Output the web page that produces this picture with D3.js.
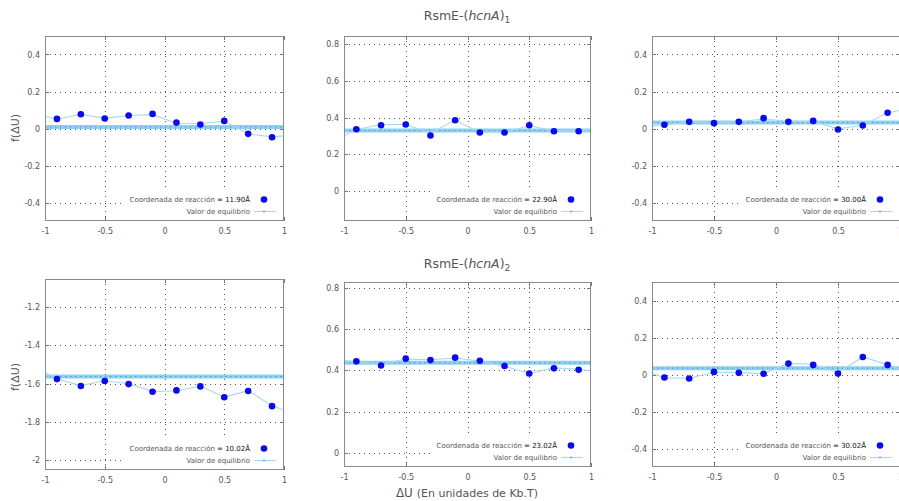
<!DOCTYPE html>
<html><head><meta charset="utf-8">
<script src="https://cdn.jsdelivr.net/npm/d3@7"></script>
<style>body{margin:0;background:#fff}svg{display:block;font-family:"DejaVu Sans",sans-serif}</style>
</head><body><svg id="c" width="899" height="501"></svg>
<script>
// ---------- data ----------
const pointX = [-0.9,-0.7,-0.5,-0.3,-0.1,0.1,0.3,0.5,0.7,0.9];
const lineX  = [-1,-0.9,-0.7,-0.5,-0.3,-0.1,0.1,0.3,0.5,0.7,0.9,1];
const xTicks = [-1,-0.5,0,0.5,1];
const xTickLabels = ["-1","-0.5","0","0.5","1"];

const coords = ["11.90Å","22.90Å","30.00Å","10.02Å","23.02Å","30.02Å"];
const equilibrium = [0.008, 0.329, 0.032, -1.563, 0.437, 0.034];

const pts1 = [0.052,0.077,0.054,0.070,0.079,0.032,0.022,0.041,-0.029,-0.047];
const pts2 = [0.336,0.358,0.362,0.302,0.385,0.318,0.318,0.358,0.325,0.325];
const pts3 = [0.020,0.036,0.029,0.036,0.056,0.036,0.041,-0.005,0.016,0.085];
const pts4 = [-1.576,-1.612,-1.586,-1.602,-1.642,-1.635,-1.614,-1.671,-1.638,-1.717];
const pts5 = [0.444,0.424,0.457,0.450,0.462,0.447,0.421,0.385,0.410,0.403];
const pts6 = [-0.016,-0.022,0.014,0.009,0.004,0.059,0.052,0.005,0.095,0.052];

const line1 = [0.066,0.050,0.077,0.055,0.070,0.075,0.028,0.027,0.040,-0.030,-0.045,-0.040];
const line2 = [0.300,0.335,0.362,0.362,0.316,0.385,0.320,0.320,0.355,0.327,0.327,0.335];
const line3 = [0.013,0.020,0.035,0.030,0.035,0.053,0.038,0.038,-0.002,0.018,0.085,0.097];
const line4 = [-1.541,-1.575,-1.610,-1.585,-1.600,-1.640,-1.638,-1.612,-1.670,-1.636,-1.715,-1.737];
const line5 = [0.450,0.440,0.430,0.455,0.452,0.460,0.445,0.420,0.385,0.412,0.405,0.397];
const line6 = [0.007,-0.018,-0.020,0.012,0.010,0.005,0.060,0.055,0.010,0.095,0.052,0.030];

const yTicksA = [-0.4,-0.2,0,0.2,0.4];
const yTicksB = [0,0.2,0.4,0.6,0.8];
const yTicksC = [-2,-1.8,-1.6,-1.4,-1.2];

const titles = ["RsmE-(", "hcnA", ")"];
const xLabel = "(En unidades de Kb.T)";
const yLabel = "f(ΔU)";

// ---------- layout ----------
const panels = [
  {l:45,  t:36,  w:239, h:185, yd:[-0.5,0.5],     yt:yTicksA, pts:pts1, ln:line1},
  {l:344, t:36,  w:247, h:185, yd:[-0.165,0.845], yt:yTicksB, pts:pts2, ln:line2},
  {l:652, t:36,  w:248, h:185, yd:[-0.5,0.5],     yt:yTicksA, pts:pts3, ln:line3},
  {l:45,  t:279, w:239, h:191, yd:[-2.05,-1.054], yt:yTicksC, pts:pts4, ln:line4},
  {l:344, t:282, w:247, h:185, yd:[-0.07,0.83],   yt:yTicksB, pts:pts5, ln:line5},
  {l:652, t:282, w:248, h:185, yd:[-0.5,0.5],     yt:yTicksA, pts:pts6, ln:line6}
];

const svg = d3.select("#c");
const defs = svg.append("defs");
const fmtY = d => { const v = +d.toFixed(1); return v === 0 ? "0" : String(v); };

panels.forEach((p, i) => {
  const x = d3.scaleLinear().domain([-1,1]).range([p.l, p.l + p.w]);
  const y = d3.scaleLinear().domain(p.yd).range([p.t + p.h, p.t]);
  const g = svg.append("g");
  defs.append("clipPath").attr("id","clip"+i).append("rect")
    .attr("x",p.l).attr("y",p.t).attr("width",p.w).attr("height",p.h);

  // grid
  const grid = g.append("g").attr("stroke","#555").attr("stroke-width",1).attr("stroke-dasharray","1,4");
  xTicks.filter(v => v > -1 && v < 1).forEach(v => {
    grid.append("line").attr("x1",Math.round(x(v))+0.5).attr("x2",Math.round(x(v))+0.5)
      .attr("y1",p.t).attr("y2",p.t+p.h);
  });
  p.yt.forEach(v => {
    grid.append("line").attr("y1",Math.round(y(v))+0.5).attr("y2",Math.round(y(v))+0.5)
      .attr("x1",p.l).attr("x2",p.l+p.w);
  });

  // axes (tick labels)
  const ax = d3.axisBottom(x).tickValues(xTicks).tickFormat((d,k)=>xTickLabels[k]).tickSize(0).tickPadding(7);
  const axG = g.append("g").attr("transform",`translate(0,${p.t+p.h})`).call(ax);
  axG.select(".domain").remove();
  const ay = d3.axisLeft(y).tickValues(p.yt).tickFormat(fmtY).tickSize(0).tickPadding(5);
  const ayG = g.append("g").attr("transform",`translate(${p.l},0)`).call(ay);
  ayG.select(".domain").remove();
  [axG, ayG].forEach(a => a.selectAll("text").attr("fill","#555").attr("font-size",8).attr("font-family","DejaVu Sans"));

  // inward tick marks (mirrored)
  const tk = g.append("g").attr("stroke","#777").attr("stroke-width",1);
  xTicks.forEach(v => {
    const xx = Math.round(x(v))+0.5;
    tk.append("line").attr("x1",xx).attr("x2",xx).attr("y1",p.t+p.h).attr("y2",p.t+p.h-4);
    tk.append("line").attr("x1",xx).attr("x2",xx).attr("y1",p.t).attr("y2",p.t+4);
  });
  p.yt.forEach(v => {
    const yy = Math.round(y(v))+0.5;
    tk.append("line").attr("y1",yy).attr("y2",yy).attr("x1",p.l).attr("x2",p.l+4);
    tk.append("line").attr("y1",yy).attr("y2",yy).attr("x1",p.l+p.w).attr("x2",p.l+p.w-4);
  });

  const plot = g.append("g").attr("clip-path",`url(#clip${i})`);
  // equilibrium line
  const eqY = y(equilibrium[i]);
  plot.append("line").attr("x1",p.l).attr("x2",p.l+p.w).attr("y1",eqY).attr("y2",eqY)
    .attr("stroke","#8fd0f0").attr("stroke-width",4);
  plot.append("line").attr("x1",p.l).attr("x2",p.l+p.w).attr("y1",eqY).attr("y2",eqY)
    .attr("stroke","#4aa6da").attr("stroke-width",1.2).attr("stroke-dasharray","1.5,3.5");

  // light blue data line
  plot.append("path").datum(p.ln.map((v,k)=>[lineX[k],v]))
    .attr("d", d3.line().x(d=>x(d[0])).y(d=>y(d[1])))
    .attr("fill","none").attr("stroke","#a6d9ef").attr("stroke-width",1.1);

  // points
  plot.selectAll("circle.pt").data(p.pts.map((v,k)=>[pointX[k],v])).join("circle")
    .attr("class","pt").attr("cx",d=>x(d[0])).attr("cy",d=>y(d[1])).attr("r",3.3)
    .attr("fill","#0a0aee");

  // key
  const R = p.l + p.w, B = p.t + p.h;
  const key = g.append("g");
  const box = key.append("rect").attr("fill","#fff");
  const t1 = key.append("text").attr("x",R-34).attr("y",B-19).attr("text-anchor","end")
    .attr("font-size",7).attr("fill","#555");
  t1.append("tspan").text("Coordenada de reacción ");
  t1.append("tspan").attr("fill","#111").text("= " + coords[i]);
  const t2 = key.append("text").attr("x",R-34).attr("y",B-7).attr("text-anchor","end")
    .attr("font-size",7).attr("fill","#555").text("Valor de equilibrio");
  key.append("circle").attr("cx",R-20).attr("cy",B-21.5).attr("r",3.3).attr("fill","#0a0aee");
  key.append("line").attr("x1",R-30).attr("x2",R-8).attr("y1",B-9.5).attr("y2",B-9.5)
    .attr("stroke","#a6d9ef").attr("stroke-width",1.1);
  key.append("rect").attr("x",R-20.8).attr("y",B-10.3).attr("width",1.6).attr("height",1.6).attr("fill","#4aa6da");
  const w1 = t1.node().getComputedTextLength();
  box.attr("x",R-34-w1-5).attr("y",B-32).attr("width",w1+5+33).attr("height",31);

  // border
  g.append("rect").attr("x",p.l+0.5).attr("y",p.t+0.5).attr("width",p.w-1).attr("height",p.h-1)
    .attr("fill","none").attr("stroke","#8a8a8a").attr("stroke-width",1);
});

// titles
[[20,"1"],[268,"2"]].forEach(([yy,sub]) => {
  const t = svg.append("text").attr("x",467).attr("y",yy).attr("text-anchor","middle")
    .attr("font-size",12.5).attr("fill","#555");
  t.append("tspan").text(titles[0]);
  t.append("tspan").attr("font-style","italic").text(titles[1]);
  t.append("tspan").text(titles[2]);
  t.append("tspan").attr("font-size",9).attr("dy",3).text(sub);
});

// y labels
[128,377].forEach(cy => {
  svg.append("text").attr("transform",`translate(19,${cy}) rotate(-90)`).attr("text-anchor","middle")
    .attr("font-size",11).attr("fill","#555").text(yLabel);
});

// x label
const xl = svg.append("text").attr("x",467).attr("y",497).attr("text-anchor","middle")
  .attr("font-size",11).attr("fill","#555");
xl.append("tspan").attr("font-size",12).text("ΔU ");
xl.append("tspan").text(xLabel);
</script></body></html>
